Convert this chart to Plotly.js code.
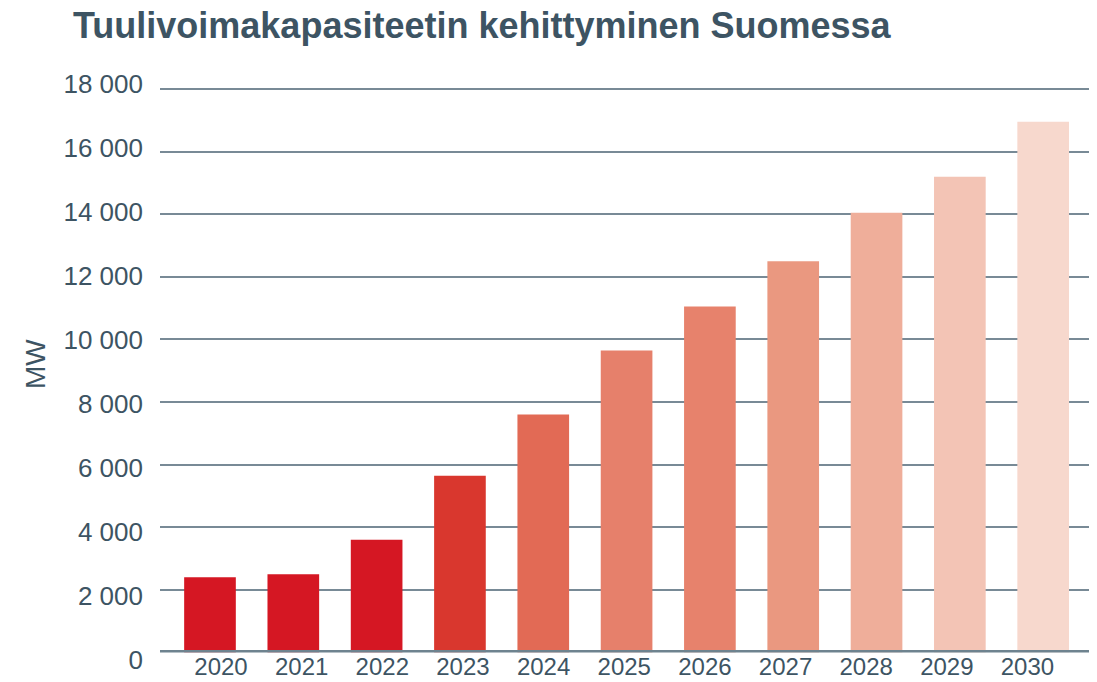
<!DOCTYPE html>
<html>
<head>
<meta charset="utf-8">
<script src="https://cdn.plot.ly/plotly-3.0.1.min.js"></script>
<style>html,body{margin:0;padding:0;background:#fff;}#chart{width:1097px;height:682px;}</style>
</head>
<body>
<div id="chart"></div>
<script>
const years = ['2020','2021','2022','2023','2024','2025','2026','2027','2028','2029','2030'];
const capacityMW = [2400, 2500, 3600, 5650, 7600, 9650, 11050, 12500, 14050, 15200, 16950];
const barColors = ['#d51723','#d51723','#d51723','#d9372e','#e26a55','#e6806b','#e7826c','#ea9880','#efae9a','#f3c4b5','#f7d8cd'];
const yTickVals = [0, 2000, 4000, 6000, 8000, 10000, 12000, 14000, 16000, 18000];
const yTickText = ['0','2 000','4 000','6 000','8 000','10 000','12 000','14 000','16 000','18 000'];
const titleText = 'Tuulivoimakapasiteetin kehittyminen Suomessa';
const yTitle = 'MW';

const FONT = 'Liberation Sans, Arial, sans-serif';
const TXT = '#3d5463';

const traces = [
  {type:'bar', x: years, y: capacityMW, marker:{color: barColors, line:{width:0}}, width:0.62,
   xaxis:'x', yaxis:'y', hoverinfo:'x+y'},
  {type:'scatter', mode:'markers', x: years, y: capacityMW, xaxis:'x2', yaxis:'y',
   marker:{opacity:0}, hoverinfo:'skip', showlegend:false},
  {type:'scatter', mode:'markers', x: years, y: capacityMW, xaxis:'x', yaxis:'y2',
   marker:{opacity:0}, hoverinfo:'skip', showlegend:false}
];

const layout = {
  width:1097, height:682,
  paper_bgcolor:'#ffffff', plot_bgcolor:'rgba(0,0,0,0)',
  margin:{l:160, r:8, t:70, b:5},
  showlegend:false,
  font:{family:FONT, color:TXT},
  title:{text: titleText, font:{family:FONT, size:36, color:TXT, weight:'bold'},
         xref:'container', yref:'container', x:73/1097, xanchor:'left', y:1-25/682, yanchor:'middle'},
  xaxis:{type:'category', domain:[0,1], range:[-0.6, 10.55], showticklabels:false, ticks:'',
         showgrid:false, zeroline:false, showline:false, anchor:'y', fixedrange:true},
  xaxis2:{type:'category', overlaying:'x', anchor:'free', position:0.04778, range:[-0.756, 10.763],
          showgrid:false, zeroline:false, showline:false, ticks:'',
          tickfont:{family:FONT, size:24, color:TXT}, ticklabelstandoff:2, fixedrange:true},
  yaxis:{domain:[0.04036, 0.98933], range:[0,18400], tickvals: yTickVals, showticklabels:false,
         ticks:'', showgrid:true, gridcolor:'#788a96', gridwidth:2, zeroline:false, showline:false,
         anchor:'x', fixedrange:true},
  yaxis2:{domain:[0,1], range:[-531.3, 18437.4], anchor:'x', tickvals: yTickVals, ticktext: yTickText,
          showgrid:false, zeroline:false, showline:false, ticks:'',
          tickfont:{family:FONT, size:26, color:TXT}, ticklabelstandoff:16, fixedrange:true},
  shapes:[{type:'line', xref:'paper', yref:'y', x0:0, x1:1, y0:0, y1:0,
           line:{color:'#6e838f', width:5}, layer:'above'}],
  annotations:[{text: yTitle, xref:'paper', yref:'paper', x:(35-160)/929, y:(677-364)/607,
                xanchor:'center', yanchor:'middle', textangle:-90, showarrow:false,
                font:{family:FONT, size:28, color:TXT}}]
};

Plotly.newPlot('chart', traces, layout, {displayModeBar:false, staticPlot:true});
</script>
</body>
</html>
